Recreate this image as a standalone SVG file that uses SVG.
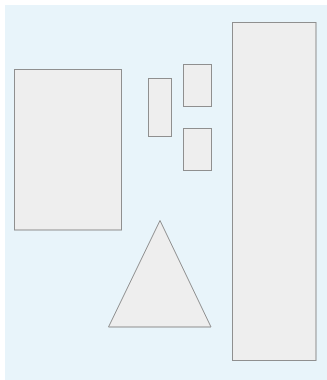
<svg xmlns="http://www.w3.org/2000/svg" width="327" height="380" viewBox="0 0 327 380">
<style>
.bg{fill:#e8f4fa;stroke:none}
.s{fill:#eeeeee;stroke:#8f8f8f;stroke-width:1}
</style>
<rect class="bg" x="5" y="5" width="322" height="375"/>
<g id="rect-left"><rect class="s" x="14.5" y="69.5" width="107" height="160.5"/></g>
<g id="rect-small-1"><rect class="s" x="148.5" y="78.5" width="23" height="58"/></g>
<g id="rect-small-2"><rect class="s" x="183.5" y="64.5" width="28" height="42"/></g>
<g id="rect-small-3"><rect class="s" x="183.5" y="128.5" width="28" height="42"/></g>
<g id="rect-tall"><rect class="s" x="232.5" y="22.5" width="83.5" height="338"/></g>
<g id="triangle"><polygon class="s" points="160,220.5 108.5,327 211,327"/></g>
<g id="connectors"></g>
</svg>
